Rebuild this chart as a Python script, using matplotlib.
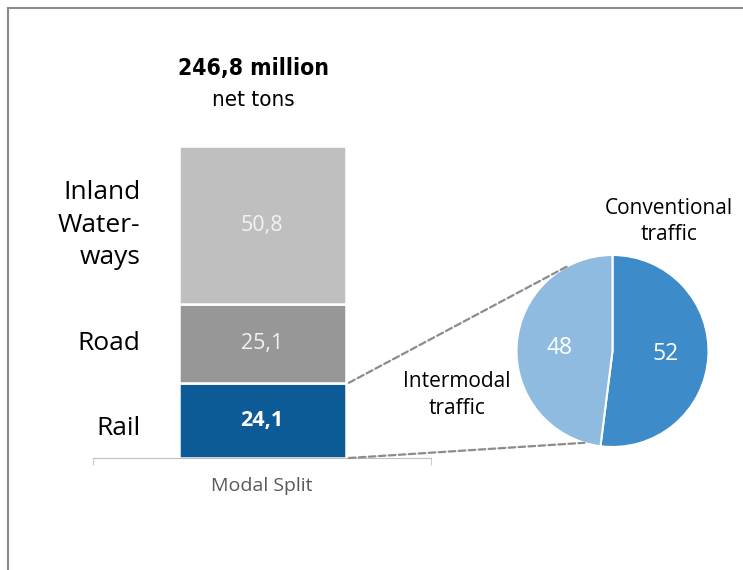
import matplotlib
matplotlib.use("Agg")
import matplotlib.pyplot as plt
from matplotlib.lines import Line2D
from matplotlib.patches import ConnectionPatch
from matplotlib.transforms import offset_copy
import numpy as np

# data
modes = ["Rail", "Road", "Inland\nWater-\nways"]
mode_values = [24.1, 25.1, 50.8]
mode_colors = ["#0c5a96", "#979797", "#bfbfbf"]
value_colors = ["white", "#f2f2f2", "#f2f2f2"]
total_label = "246,8 million"
unit_label = "net tons"
bar_category = "Modal Split"

rail_split = ["Conventional\ntraffic", "Intermodal\ntraffic"]
rail_values = [52, 48]
rail_colors = ["#3d8bc8", "#90bbe0"]

BODY = ["Open Sans", "DejaVu Sans"]

W, H = 743, 570
fig = plt.figure(figsize=(W / 100, H / 100), dpi=100)


def fx(px):
    return px / W


def fy(py):
    return 1 - py / H


# frame lines (left and top)
fig.add_artist(Line2D([fx(8), fx(8)], [fy(8), 0], color="#8a8a8a", lw=1.5))
fig.add_artist(Line2D([fx(8), 1], [fy(8), fy(8)], color="#8a8a8a", lw=1.5))

# stacked bar
x0, x1, ytop, ybot = 93, 431, 146, 458
ax = fig.add_axes([fx(x0), fy(ybot), fx(x1 - x0), (ybot - ytop) / H])
bar_w = 167 / (x1 - x0)
bottom = 0.0
for name, v, c, tc in zip(modes, mode_values, mode_colors, value_colors):
    ax.bar(0, v, width=bar_w, bottom=bottom, color=c, edgecolor="white", linewidth=1.8)
    txt = f"{v:.1f}".replace(".", ",")
    ax.text(0, bottom + v / 2, txt, ha="center", va="center", color=tc,
            fontsize=15.5, family=BODY,
            fontweight="bold" if name == "Rail" else "normal")
    # rail label sits a little below its segment centre in the original
    tr = offset_copy(ax.transData, fig=fig, y=-6 if name == "Rail" else 0, units="points")
    ax.text(-0.36, bottom + v / 2, name, ha="right", va="center", color="black",
            fontsize=19, family=BODY, linespacing=1.4, transform=tr)
    bottom += v

ax.set_xlim(-0.5, 0.5)
ax.set_ylim(0, sum(mode_values))
for s in ["left", "right", "top"]:
    ax.spines[s].set_visible(False)
ax.spines["bottom"].set_color("#bfbfbf")
ax.set_yticks([])
ax.set_xticks([0], [bar_category])
ax.set_xticks([-0.5, 0.5], minor=True)
ax.tick_params(axis="x", which="major", length=0, pad=14, labelcolor="#595959",
               labelsize=14)
ax.tick_params(axis="x", which="minor", length=5, color="#bfbfbf", direction="out")
for lab in ax.get_xticklabels():
    lab.set_family(BODY)

fig.text(fx(253.5), fy(68), total_label, ha="center", va="center",
         fontsize=16.5, fontweight="bold", family="DejaVu Sans", fontstretch="condensed")
fig.text(fx(253.5), fy(100), unit_label, ha="center", va="center",
         fontsize=16, family="DejaVu Sans", fontstretch="condensed")

# pie of rail
cx, cy, r = 612.5, 351, 96
pad = 1.03
pax = fig.add_axes([fx(cx - r * pad), fy(cy + r * pad), 2 * r * pad / W, 2 * r * pad / H])
wedges, _, autotexts = pax.pie(
    rail_values, colors=rail_colors, startangle=90, counterclock=False,
    autopct=lambda p: f"{p:.0f}", pctdistance=0.55,
    wedgeprops=dict(edgecolor="white", linewidth=1.5),
)
for t in autotexts:
    t.set_color("white")
    t.set_fontsize(16.5)
    t.set_family(BODY)
pax.set_xlim(-pad, pad)
pax.set_ylim(-pad, pad)
pax.set_aspect("equal")

pax.text(0.59, 1.35, rail_split[0], ha="center", va="center", fontsize=15,
         family=BODY, linespacing=1.35)
pax.text(-1.62, -0.46, rail_split[1], ha="center", va="center", fontsize=15,
         family=BODY, linespacing=1.35)

# connectors from rail segment to pie
for yv, ang in [(mode_values[0], 118), (0, 253)]:
    a = np.deg2rad(ang)
    con = ConnectionPatch(xyA=(bar_w / 2 + 0.01, yv), coordsA=ax.transData,
                          xyB=(np.cos(a), np.sin(a)), coordsB=pax.transData,
                          color="#8c8c8c", lw=1.6, linestyle=(0, (3, 1.5)))
    fig.add_artist(con)

fig.savefig("out.png", dpi=100)
